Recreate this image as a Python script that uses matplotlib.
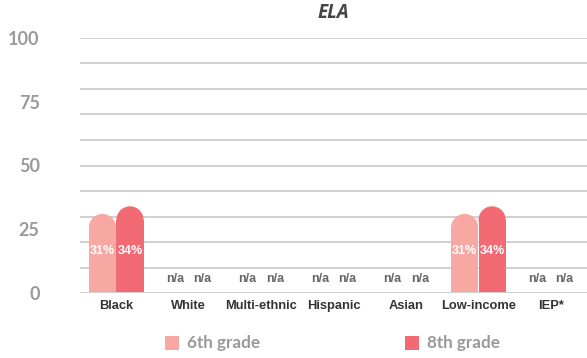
import numpy as np
import matplotlib
matplotlib.use("Agg")
import matplotlib.pyplot as plt
from matplotlib.patches import Rectangle, Ellipse

categories = ["Black", "White", "Multi-ethnic", "Hispanic", "Asian", "Low-income", "IEP*"]
grade6 = [31, None, None, None, None, 31, None]
grade8 = [34, None, None, None, None, 34, None]
series_names = ["6th grade", "8th grade"]
colors = ["#f7a8a2", "#f26a73"]

fig = plt.figure(figsize=(5.87, 3.58), dpi=100)
ax = fig.add_axes([80 / 587, 65 / 358, 507 / 587, 255 / 358])
ax.set_xlim(-0.5, len(categories) - 0.5)
ax.set_ylim(0, 100)

for y in range(10, 101, 10):
    ax.axhline(y, color="#c4c4c4", lw=1.1, zorder=0)
ax.axhline(0, color="#cfcfcf", lw=2.2, zorder=3)

for s in ax.spines.values():
    s.set_visible(False)
ax.tick_params(length=0)
ax.set_yticks([0, 25, 50, 75, 100])
ax.set_yticklabels(["0", "25", "50", "75", "100"], family="Lato", fontweight="bold",
                   fontsize=13, color="#9a9a9a")
ax.tick_params(axis="y", pad=29)
ax.set_xticks(range(len(categories)))
ax.set_xticklabels(categories, family="Liberation Sans", fontweight="bold",
                   fontsize=9.3, color="#333333")
ax.tick_params(axis="x", pad=5)

# pixel size of one y unit, for round bar tops
px_x = ax.transData.transform((1, 0))[0] - ax.transData.transform((0, 0))[0]
px_y = ax.transData.transform((0, 1))[1] - ax.transData.transform((0, 0))[1]

width = 0.375
offsets = [-0.19, 0.19]
for vals, off, col in zip([grade6, grade8], offsets, colors):
    for i, v in enumerate(vals):
        xc = i + off
        if v is None:
            ax.text(xc, 5.5, "n/a", ha="center", va="center", family="Liberation Sans",
                    fontweight="bold", fontsize=9, color="#666666")
            continue
        r_y = (width / 2) * px_x / px_y
        ax.add_patch(Rectangle((xc - width / 2, 0), width, v - r_y, color=col, lw=0, zorder=2))
        ax.add_patch(Ellipse((xc, v - r_y), width, 2 * r_y, color=col, lw=0, zorder=2))
        ax.text(xc, 16.5, f"{v}%", ha="center", va="center", family="Liberation Sans",
                fontweight="bold", fontsize=9, color="white", zorder=4)

fig.text(333 / 587, 1 - 13 / 358, "ELA", ha="center", va="center", family="Open Sans",
         fontweight="bold", style="italic", fontsize=13.5, color="#444444")

# legend
for name, col, x0 in zip(series_names, colors, [165, 405]):
    fig.patches.append(Rectangle((x0 / 587, 1 - 350 / 358), 14 / 587, 14 / 358,
                                 transform=fig.transFigure, color=col, lw=0))
    fig.text((x0 + 22) / 587, 1 - 343 / 358, name, ha="left", va="center", family="Lato",
             fontweight="bold", fontsize=12.3, color="#9a9a9a")

fig.savefig("out.png", dpi=100)
